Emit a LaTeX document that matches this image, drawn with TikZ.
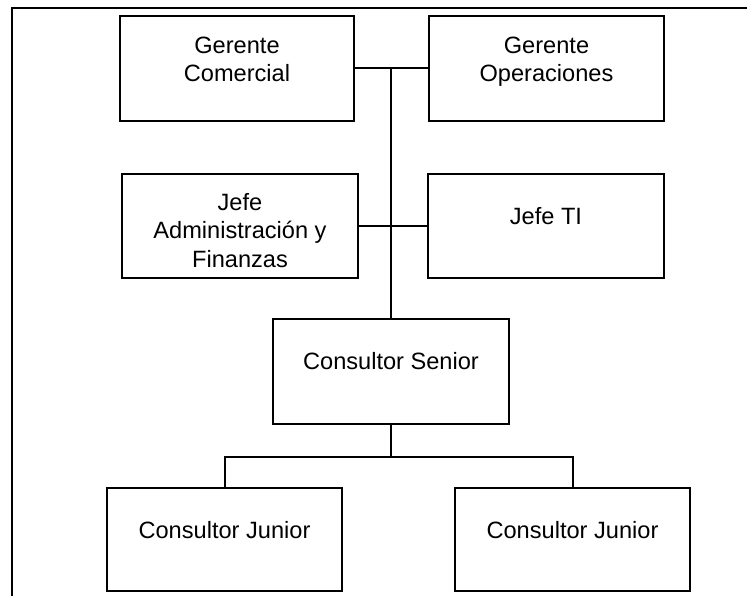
\documentclass[tikz,border=0pt]{standalone}
\usepackage{fontspec}
\setmainfont{Liberation Sans}
\begin{document}
\begin{tikzpicture}[x=1pt,y=-1pt,
  orgbox/.style={draw=black, fill=white, line width=2pt, inner sep=0pt},
  lbl/.style={font=\fontsize{23.6}{28.5}\selectfont, align=center, inner sep=0pt, anchor=base},
  conn/.style={draw=black, line width=2pt}]
\useasboundingbox (0,0) rectangle (747,596);
% frame
\coordinate (ftl) at (12,8);
\coordinate (ftr) at (747,8);
\coordinate (fbl) at (12,596);
\draw[line width=2pt] (ftr) -- (ftl) -- (fbl);
% boxes
\node[orgbox, minimum width=234pt, minimum height=105pt] (gc) at (237,68.5) {};
\node[orgbox, minimum width=235pt, minimum height=105pt] (go) at (546.5,68.5) {};
\node[orgbox, minimum width=236pt, minimum height=104pt] (ja) at (240,226) {};
\node[orgbox, minimum width=236pt, minimum height=104pt] (jt) at (546,226) {};
\node[orgbox, minimum width=236pt, minimum height=105pt] (cs) at (391,371.5) {};
\node[orgbox, minimum width=235pt, minimum height=103pt] (jl) at (224.5,539.5) {};
\node[orgbox, minimum width=235pt, minimum height=103pt] (jr) at (572.5,539.5) {};
% labels (base = baseline of last line)
\node[lbl] (tgc) at (237,82) {Gerente\\Comercial};
\node[lbl] (tgo) at (546.5,82) {Gerente\\Operaciones};
\node[lbl] (tja) at (240,267) {Jefe\\Administración y\\Finanzas};
\node[lbl] (tjt) at (546,225) {Jefe TI};
\node[lbl] (tcs) at (391,369) {Consultor Senior};
\node[lbl] (tjl) at (224.5,538) {Consultor Junior};
\node[lbl] (tjr) at (572.5,538) {Consultor Junior};
% connectors
\coordinate (ctop) at (cs.north |- gc.east);
\coordinate (cbr) at (391,457);
\coordinate (cbl) at (jl.north |- cbr);
\coordinate (cbrr) at (jr.north |- cbr);
\draw[conn] (gc.east) -- (go.west);
\draw[conn] (ja.east) -- (jt.west);
\draw[conn] (ctop) -- (cs.north);
\draw[conn] (cs.south) -- (cbr);
\draw[conn] (jl.north) -- (cbl) -- (cbrr) -- (jr.north);
\end{tikzpicture}
\end{document}
